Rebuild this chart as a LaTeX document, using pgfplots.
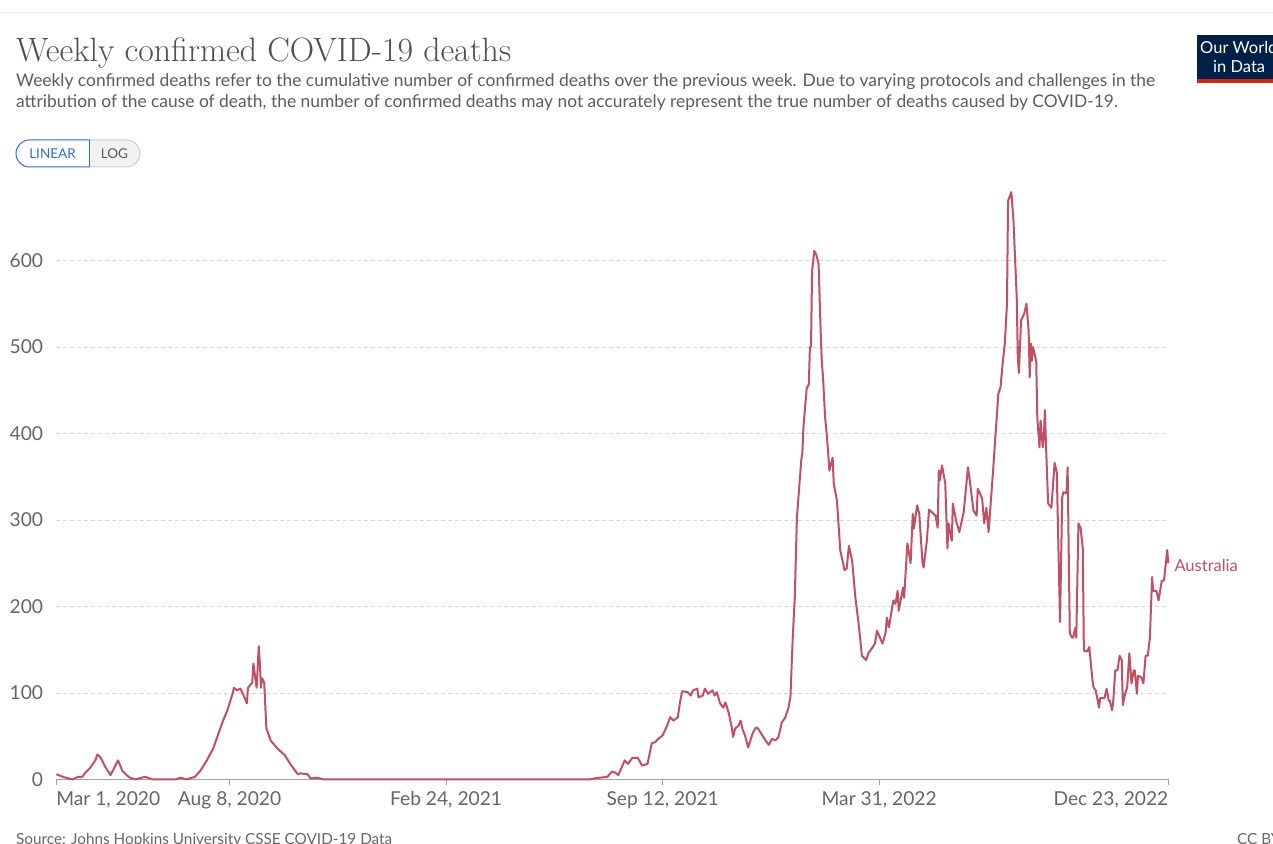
\documentclass[border=0pt]{standalone}
\usepackage{pgfplots}
\pgfplotsset{compat=1.18}
\usepackage{fontspec}
\newfontfamily\lato{Lato}
\definecolor{owid}{RGB}{193,80,101}
\definecolor{titlec}{RGB}{80,80,80}
\definecolor{subc}{RGB}{92,92,92}
\definecolor{tickc}{RGB}{102,102,102}
\definecolor{axisc}{RGB}{160,160,160}
\definecolor{gridc}{RGB}{214,214,214}
\definecolor{navy}{RGB}{0,33,71}
\definecolor{logored}{RGB}{206,38,30}
\definecolor{btnblue}{RGB}{45,110,210}
\definecolor{btngray}{RGB}{242,242,242}
\definecolor{btnborder}{RGB}{205,205,205}
\begin{document}
\begin{tikzpicture}[x=1pt,y=1pt]
\useasboundingbox (0,0) rectangle (1273,843);
\clip (0,0) rectangle (1273,843);
\fill[white] (0,0) rectangle (1273,843);
\draw[color=black!7, line width=1pt] (0,830) -- (1273,830);
% title and subtitle
\node[anchor=base west, inner sep=0pt, text=titlec, font=\rmfamily\fontsize{33.8}{40}\selectfont] at (16,781) {Weekly confirmed COVID-19 deaths};
\node[anchor=base west, inner sep=0pt, text=subc, font=\lato\fontsize{17.4}{20}\selectfont] at (16,756) {Weekly confirmed deaths refer to the cumulative number of confirmed deaths over the previous week. Due to varying protocols and challenges in the};
\node[anchor=base west, inner sep=0pt, text=subc, font=\lato\fontsize{17.4}{20}\selectfont] at (16,735) {attribution of the cause of death, the number of confirmed deaths may not accurately represent the true number of deaths caused by COVID-19.};
% buttons
\fill[btngray, rounded corners=13.5pt] (16,676) rectangle (140,703);
\begin{scope}
\clip (89,600) rectangle (200,720);
\draw[btnborder, line width=1pt, rounded corners=13.5pt] (16,676) rectangle (140,703);
\end{scope}
\begin{scope}
\clip (0,600) rectangle (89.5,720);
\fill[white, rounded corners=13.5pt] (16,676) rectangle (160,703);
\draw[btnblue, line width=1pt, rounded corners=13.5pt] (16,676) rectangle (160,703);
\end{scope}
\draw[btnblue, line width=1pt] (89,676) -- (89,703);
\node[text=btnblue, font=\lato\fontsize{13.5}{15}\selectfont] at (52.5,689.5) {LINEAR};
\node[text=subc, font=\lato\fontsize{13.5}{15}\selectfont] at (114.5,689.5) {LOG};
% logo
\fill[navy] (1197,764) rectangle (1280,808);
\fill[logored] (1197,760) rectangle (1280,764);
\node[anchor=base west, inner sep=0pt, text=white, font=\lato\fontsize{16.5}{18}\selectfont] at (1200,789) {Our World};
\node[anchor=base west, inner sep=0pt, text=white, font=\lato\fontsize{16.5}{18}\selectfont] at (1213,770) {in Data};
% footer
\node[anchor=base west, inner sep=0pt, text=tickc, font=\lato\fontsize{15.3}{17}\selectfont] at (16,-1) {Source: Johns Hopkins University CSSE COVID-19 Data};
\node[anchor=base west, inner sep=0pt, text=tickc, font=\lato\fontsize{15.3}{17}\selectfont] at (1237,-1) {CC BY};
\begin{axis}[
  at={(52,73.5)}, anchor=south west, scale only axis,
  width=1112pt, height=589pt,
  xmin=0, xmax=1027, ymin=0, ymax=681,
  axis lines*=left,
  y axis line style={draw=none},
  x axis line style={draw=axisc, line width=1pt},
  ytick={0,100,200,300,400,500,600},
  ytick style={draw=none},
  ymajorgrids,
  grid style={gridc, dash pattern=on 4pt off 3pt, line width=0.8pt},
  xtick={0,160,360,560,760,1027},
  xticklabels={\rlap{Mar 1, 2020},{Aug 8, 2020},{Feb 24, 2021},{Sep 12, 2021},{Mar 31, 2022},\llap{Dec 23, 2022}},
  tick align=outside,
  major tick length=6pt,
  xtick style={draw=axisc, line width=1pt},
  tick label style={font=\lato\fontsize{19.2}{21}\selectfont, text=tickc},
  /pgf/number format/assume math mode=true,
  yticklabel style={inner sep=0pt, anchor=east, xshift=-7pt},
  xticklabel style={inner sep=0pt, anchor=north, yshift=-6pt},
  clip=false,
]
\addplot[owid, line width=2pt, line join=round] coordinates {
(0,6)(6,3)(15,0)(20,3)(24,3)(27,8)(31,13)(36,22)(38,29)(41,25)(45,15)(50,5)(53,12)(57,22)(61,10)(65,5)(68,2)(73,0)(82,3)(89,0)(110,0)(115,2)(120,0)(128,3)(133,10)(139,22)(145,36)(150,54)(154,68)(158,80)(163,100)(164,106)(167,103)(170,105)(173,97)(176,88)(177,106)(181,112)(182,134)(185,106)(187,154)(188,134)(189,106)(190,117)(192,112)(194,59)(198,45)(204,36)(211,28)(216,18)(223,6)(225,7)(232,6)(235,1)(241,2)(247,0)(493,0)
(496,1)(502,2)(509,3)(513,9)(516,8)(519,5)(525,22)(528,18)(532,25)(537,25)(541,16)(546,18)(550,42)(553,43)(556,47)(560,51)(564,62)(567,72)(570,68)(574,72)(576,89)(578,102)(583,101)(586,97)(588,103)(592,105)(593,95)(597,97)(599,105)(602,99)(606,103)(608,97)(610,101)(613,88)(616,83)(618,89)(621,77)(624,59)(625,49)(627,59)(630,62)(632,68)(634,57)(636,51)(639,37)(643,53)(646,60)(648,59)(652,51)(655,45)(658,40)(661,47)(664,45)(667,49)(670,66)(673,71)(676,82)(678,95)(680,160)(682,210)
(684,303)(688,369)(689,377)(690,407)(693,452)(695,457)(696,500)(697,500)(698,588)(700,611)(702,606)(704,596)(706,515)(707,482)(708,467)(710,419)(712,392)(714,357)(717,372)(718,342)(721,322)(722,303)(724,265)(728,242)(730,244)(732,270)(735,253)(738,210)(741,180)(744,143)(748,138)(750,146)(754,153)(756,157)(758,172)(763,157)(766,170)(767,187)(769,176)(773,207)(775,203)(777,218)(778,195)(782,222)(783,210)(786,273)(789,250)(791,307)(792,290)(795,317)(797,307)(800,250)(801,245)(804,276)(806,312)(812,305)(814,291)(815,357)(816,346)(818,363)(821,342)(823,267)(824,296)(827,276)(828,319)(831,299)(834,286)(838,309)(839,322)(842,361)(844,342)(847,311)(850,305)(851,336)(853,331)(855,325)(857,296)(859,314)(861,286)(865,354)
(870,446)(872,453)(874,481)(876,504)(878,550)(879,669)(882,679)(884,646)(887,557)(888,488)(889,470)(891,531)(893,536)(894,539)(896,550)(898,519)(899,465)(900,504)(901,484)(902,500)(905,484)(906,418)(908,384)(909,415)(911,384)(912,395)(913,427)(914,388)(916,319)(919,314)(922,366)(924,355)(927,182)(929,326)(930,332)(933,331)(934,361)(936,169)(938,164)(939,164)(941,175)(942,164)(944,296)(946,291)(948,267)(949,149)(952,148)(954,153)(957,114)(958,106)(960,103)(963,83)(964,94)(968,94)(970,105)(972,91)(973,91)(975,80)(976,88)(978,126)(980,126)(982,143)(984,138)(985,86)(987,99)(989,106)(991,146)(993,111)(995,126)(996,126)(998,99)(999,120)(1002,118)(1004,111)(1006,143)(1008,143)(1010,164)(1012,234)(1013,218)(1016,218)(1018,207)(1021,230)(1023,230)(1024,242)(1026,265)(1027,250)
};
\node[anchor=west, inner sep=0pt, text=owid, font=\lato\fontsize{16.5}{18}\selectfont] at (axis cs:1027,247) {\hspace{6pt}Australia};
\end{axis}
\end{tikzpicture}
\end{document}
